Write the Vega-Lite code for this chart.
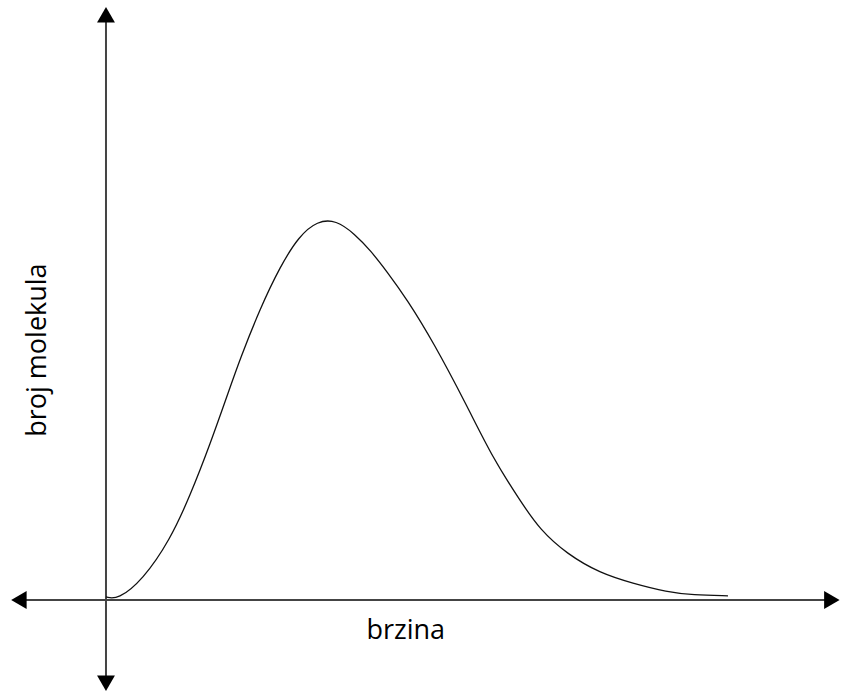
{
  "$schema": "https://vega.github.io/schema/vega-lite/v6.json",
  "width": 841,
  "height": 693,
  "padding": 0,
  "autosize": {"type": "fit", "contains": "padding"},
  "background": "white",
  "config": {"view": {"stroke": null}},
  "datasets": {
    "curve": [
      {"v": 0, "c": 0.008},
      {"v": 0.19, "c": 0.001},
      {"v": 0.59, "c": 0.053},
      {"v": 1.03, "c": 0.159},
      {"v": 1.35, "c": 0.275},
      {"v": 1.67, "c": 0.41},
      {"v": 1.99, "c": 0.56},
      {"v": 2.15, "c": 0.635},
      {"v": 2.48, "c": 0.772},
      {"v": 2.80, "c": 0.882},
      {"v": 3.10, "c": 0.962},
      {"v": 3.40, "c": 1.003},
      {"v": 3.70, "c": 1.005},
      {"v": 4.00, "c": 0.968},
      {"v": 4.25, "c": 0.925},
      {"v": 4.52, "c": 0.868},
      {"v": 4.84, "c": 0.795},
      {"v": 5.26, "c": 0.683},
      {"v": 5.80, "c": 0.515},
      {"v": 6.22, "c": 0.375},
      {"v": 6.66, "c": 0.262},
      {"v": 6.98, "c": 0.185},
      {"v": 7.41, "c": 0.122},
      {"v": 7.94, "c": 0.071},
      {"v": 8.47, "c": 0.044},
      {"v": 9.02, "c": 0.021},
      {"v": 9.44, "c": 0.013},
      {"v": 10.0, "c": 0.011}
    ],
    "hline": [{"v": -1.45, "c": 0}, {"v": 11.7, "c": 0}],
    "vline": [{"v": 0, "c": 1.55}, {"v": 0, "c": -0.22}],
    "arrows": [
      {"v": -1.40, "c": 0, "dir": "left"},
      {"v": 11.67, "c": 0, "dir": "right"},
      {"v": 0, "c": 1.548, "dir": "up"},
      {"v": 0, "c": -0.22, "dir": "down"}
    ],
    "labels": [
      {"v": 4.82, "c": -0.082, "t": "brzina", "a": 0},
      {"v": -1.093, "c": 0.661, "t": "broj molekula", "a": 270}
    ]
  },
  "layer": [
    {
      "data": {"name": "hline"},
      "mark": {"type": "line", "color": "#444444", "strokeWidth": 2},
      "encoding": {
        "x": {"field": "v", "type": "quantitative", "scale": {"domain": [-1.704, 11.817], "nice": false, "zero": false}, "axis": null},
        "y": {"field": "c", "type": "quantitative", "scale": {"domain": [-0.246, 1.587], "nice": false, "zero": false}, "axis": null}
      }
    },
    {
      "data": {"name": "vline"},
      "mark": {"type": "line", "color": "#444444", "strokeWidth": 2},
      "encoding": {
        "x": {"field": "v", "type": "quantitative"},
        "y": {"field": "c", "type": "quantitative"}
      }
    },
    {
      "data": {"name": "curve"},
      "mark": {"type": "line", "color": "#111111", "strokeWidth": 1.3, "interpolate": "basis"},
      "encoding": {
        "x": {"field": "v", "type": "quantitative"},
        "y": {"field": "c", "type": "quantitative"}
      }
    },
    {
      "data": {"name": "arrows"},
      "mark": {"type": "point", "filled": true, "color": "black", "opacity": 1, "size": 320},
      "encoding": {
        "x": {"field": "v", "type": "quantitative"},
        "y": {"field": "c", "type": "quantitative"},
        "shape": {"field": "dir", "type": "nominal", "scale": {"domain": ["left", "right", "up", "down"], "range": ["triangle-left", "triangle-right", "triangle-up", "triangle-down"]}, "legend": null}
      }
    },
    {
      "data": {"name": "labels"},
      "mark": {"type": "text", "font": "Open Sans", "fontSize": 27, "color": "black", "align": "center", "baseline": "middle"},
      "encoding": {
        "x": {"field": "v", "type": "quantitative"},
        "y": {"field": "c", "type": "quantitative"},
        "text": {"field": "t"},
        "angle": {"field": "a", "type": "quantitative", "scale": null}
      }
    }
  ]
}
